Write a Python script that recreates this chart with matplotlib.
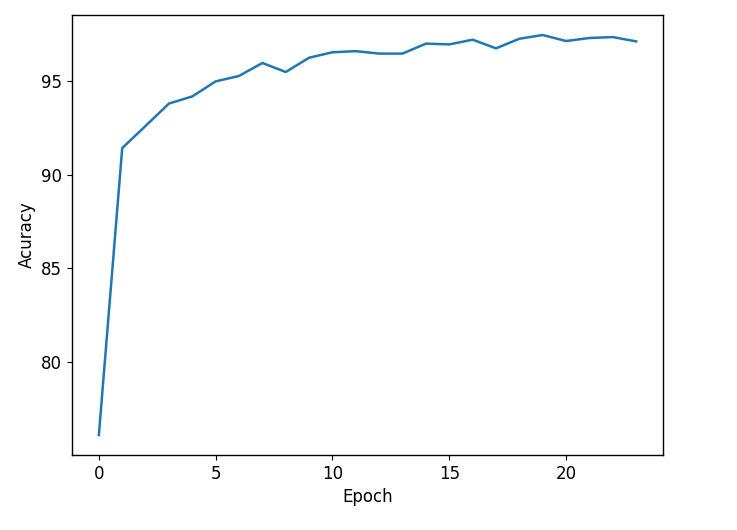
import matplotlib
matplotlib.use("Agg")
from matplotlib import pyplot as plt

epochs = list(range(24))
accuracy = [76.13, 91.41, 92.59, 93.78, 94.16, 94.96, 95.25, 95.94, 95.46, 96.22,
            96.51, 96.57, 96.44, 96.44, 96.97, 96.93, 97.18, 96.72, 97.23, 97.43,
            97.11, 97.27, 97.32, 97.09]

plt.rcParams['font.size'] = 12
fig = plt.figure(figsize=(7.37, 5.3), dpi=100)
ax = fig.add_axes([72 / 737, 1 - 455 / 530, (663 - 72) / 737, (455 - 15) / 530])
ax.plot(epochs, accuracy, color='#1f77b4', linewidth=1.8)
ax.set_xlabel('Epoch')
ax.set_ylabel('Acuracy')
ax.set_xticks([0, 5, 10, 15, 20])
ax.set_yticks([80, 85, 90, 95])
for s in ax.spines.values():
    s.set_linewidth(1.0)
fig.savefig('out.png', dpi=100)
